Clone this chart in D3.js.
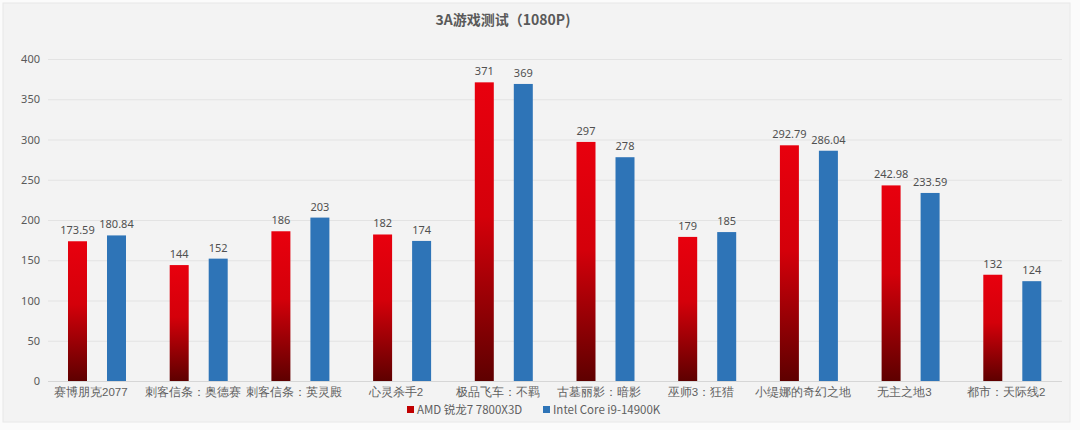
<!DOCTYPE html>
<html><head><meta charset="utf-8">
<script src="https://cdn.jsdelivr.net/npm/d3@7"></script>
<style>
html,body{margin:0;padding:0;background:#fbfbfb;}
svg{display:block;font-family:"Noto Sans CJK SC","Noto Sans",sans-serif;}
</style></head>
<body>
<svg id="chart" width="1080" height="430"></svg>
<script>
const title = "3A游戏测试（1080P)";
const categories = ["赛博朋克2077","刺客信条：奥德赛","刺客信条：英灵殿","心灵杀手2","极品飞车：不羁","古墓丽影：暗影","巫师3：狂猎","小缇娜的奇幻之地","无主之地3","都市：天际线2"];
const seriesNames = ["AMD 锐龙7 7800X3D","Intel Core i9-14900K"];
const amdValues = [173.59,144,186,182,371,297,179,292.79,242.98,132];
const intelValues = [180.84,152,203,174,369,278,185,286.04,233.59,124];
const amdLabels = ["173.59","144","186","182","371","297","179","292.79","242.98","132"];
const intelLabels = ["180.84","152","203","174","369","278","185","286.04","233.59","124"];
const yTicks = [0,50,100,150,200,250,300,350,400];

const svg = d3.select("#chart");
const defs = svg.append("defs");
const g1 = defs.append("linearGradient").attr("id","redGrad").attr("x1",0).attr("y1",0).attr("x2",0).attr("y2",1);
g1.append("stop").attr("offset","0%").attr("stop-color","#e8000e");
g1.append("stop").attr("offset","45%").attr("stop-color","#d4000a");
g1.append("stop").attr("offset","100%").attr("stop-color","#5e0000");

svg.append("rect").attr("x",3).attr("y",3).attr("width",1067).attr("height",419)
  .attr("fill","#f3f3f3").attr("stroke","#e8e8e8");

const x = d3.scaleBand().domain(categories).range([46,1063]);
const xs = d3.scaleBand().domain(["amd","intel"]).range([22,80]).paddingInner(0.513);
const y = d3.scaleLinear().domain([0,400]).range([381,59]);

// grid
svg.append("g").selectAll("line").data(yTicks).join("line")
  .attr("x1",48).attr("x2",1062)
  .attr("y1",d=>y(d)+0.5).attr("y2",d=>y(d)+0.5)
  .attr("stroke",d=>d===0?"#d6d6d6":"#e3e3e3").attr("stroke-width",1);

// y axis labels
const yAxis = d3.axisLeft(y).tickValues(yTicks).tickSize(0).tickPadding(0);
const ya = svg.append("g").attr("transform","translate(40,0)").call(yAxis);
ya.select(".domain").remove();
ya.selectAll("text").attr("fill","#595959").attr("font-size","11px")
  .attr("font-family","'Noto Sans','Noto Sans CJK SC',sans-serif");

// x axis labels
const xAxis = d3.axisBottom(x).tickSize(0).tickPadding(0);
const xa = svg.append("g").attr("transform","translate(-6,388)").call(xAxis);
xa.select(".domain").remove();
xa.selectAll("text").attr("fill","#5f5f5f").attr("font-size","11.5px");

const data = categories.map((c,i)=>({c, amd:amdValues[i], intel:intelValues[i], al:amdLabels[i], il:intelLabels[i]}));

const bars = svg.append("g");
bars.selectAll(".amd").data(data).join("rect").attr("class","amd")
  .attr("x",d=>x(d.c)+xs("amd")).attr("width",xs.bandwidth())
  .attr("y",d=>y(d.amd)).attr("height",d=>y(0)-y(d.amd))
  .attr("fill","url(#redGrad)");
bars.selectAll(".intel").data(data).join("rect").attr("class","intel")
  .attr("x",d=>x(d.c)+xs("intel")).attr("width",xs.bandwidth())
  .attr("y",d=>y(d.intel)).attr("height",d=>y(0)-y(d.intel))
  .attr("fill","#2e74b7");

const lab = svg.append("g").attr("font-size","11px").attr("fill","#505050").attr("text-anchor","middle")
  .attr("font-family","'Noto Sans','Noto Sans CJK SC',sans-serif");
lab.selectAll(".la").data(data).join("text")
  .attr("x",d=>x(d.c)+xs("amd")+xs.bandwidth()/2).attr("y",d=>y(d.amd)-7).text(d=>d.al);
lab.selectAll(".li").data(data).join("text")
  .attr("x",d=>x(d.c)+xs("intel")+xs.bandwidth()/2).attr("y",d=>y(d.intel)-7).text(d=>d.il);

// title
svg.append("text").attr("x",503).attr("y",25).attr("text-anchor","middle")
  .attr("font-size","14px").attr("font-weight","bold").attr("fill","#595959").text(title);

// legend
const leg = svg.append("g").attr("font-size","11.5px").attr("fill","#5f5f5f");
const legX = [407,543];
const legColors = ["#c00000","#2e74b7"];
seriesNames.forEach((n,i)=>{
  leg.append("rect").attr("x",legX[i]).attr("y",406).attr("width",7).attr("height",7).attr("fill",legColors[i]);
  leg.append("text").attr("x",legX[i]+10).attr("y",414).text(n);
});
</script>
</body></html>
